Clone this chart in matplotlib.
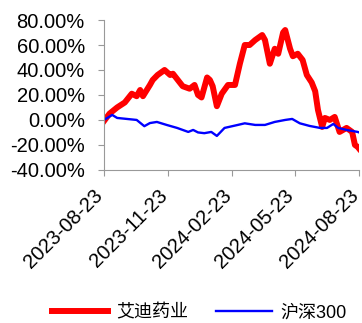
import numpy as np
import pandas as pd
import matplotlib
matplotlib.use("Agg")
from matplotlib import pyplot as plt
from matplotlib.ticker import FuncFormatter

plt.rcParams['font.family'] = ['Liberation Sans', 'Noto Sans CJK SC', 'DejaVu Sans']

# 艾迪药业 cumulative return (%)
red_dates = ["2023-08-23", "2023-08-31", "2023-09-11", "2023-09-22", "2023-10-02", "2023-10-09",
             "2023-10-14", "2023-10-18", "2023-10-28", "2023-11-01", "2023-11-08", "2023-11-18",
             "2023-11-26", "2023-11-30", "2023-12-07", "2023-12-14", "2023-12-24", "2023-12-31",
             "2024-01-05", "2024-01-10", "2024-01-18", "2024-01-22", "2024-01-26", "2024-02-01",
             "2024-02-08", "2024-02-17", "2024-02-27", "2024-03-05", "2024-03-12", "2024-03-19",
             "2024-03-27", "2024-04-06", "2024-04-10", "2024-04-17", "2024-04-24", "2024-04-29",
             "2024-05-06", "2024-05-09", "2024-05-16", "2024-05-20", "2024-05-27", "2024-06-03",
             "2024-06-09", "2024-06-16", "2024-06-21", "2024-06-25", "2024-07-01", "2024-07-05",
             "2024-07-12", "2024-07-19", "2024-07-26", "2024-08-05", "2024-08-13", "2024-08-17",
             "2024-08-21", "2024-08-23"]
red_vals = [-1, 5, 10, 14, 21, 19,
            24, 19, 28, 32, 36, 40,
            36, 37, 32, 27, 25, 28,
            20, 18, 34, 32, 27, 11,
            21, 28, 28, 45, 60, 60,
            64, 68, 64, 45, 57, 53,
            70, 72, 57, 51, 53, 48,
            36, 30, 23, 8, -5.6, 1.6,
            0, 2.4, -9.6, -6.4, -9.6, -20,
            -21.6, -23]

# 沪深300 cumulative return (%)
blue_dates = ["2023-08-23", "2023-09-04", "2023-09-11", "2023-10-09", "2023-10-20", "2023-10-28",
              "2023-11-07", "2023-11-21", "2023-12-06", "2023-12-22", "2023-12-29", "2024-01-05",
              "2024-01-14", "2024-01-24", "2024-02-01", "2024-02-12", "2024-03-02", "2024-03-12",
              "2024-03-27", "2024-04-10", "2024-04-24", "2024-05-09", "2024-05-19", "2024-05-30",
              "2024-06-13", "2024-06-28", "2024-07-08", "2024-07-17", "2024-07-24", "2024-08-05",
              "2024-08-21", "2024-08-23"]
blue_vals = [0, 4, 1.6, 0, -5, -2.5,
             -1.6, -4, -6.4, -9.6, -8, -10,
             -10.6, -9.6, -12.8, -6.4, -4, -2.7,
             -4, -4, -1.6, 0, 0.8, -2.7,
             -4.8, -6.4, -6.4, -3.2, -6.4, -8,
             -9.6, -10]

xticks = ["2023-08-23", "2023-11-23", "2024-02-23", "2024-05-23", "2024-08-23"]

fig = plt.figure(figsize=(3.62, 3.23), dpi=100)
ax = fig.add_axes([0.287, 0.474, 0.705, 0.464])

ax.plot(pd.to_datetime(red_dates), red_vals, color='#ff0000', lw=4.3, label='艾迪药业',
        solid_joinstyle='round')
ax.plot(pd.to_datetime(blue_dates), blue_vals, color='#0000ff', lw=1.7, label='沪深300')

ax.set_ylim(-40, 80)
ax.set_yticks(np.arange(-40, 81, 20))
ax.yaxis.set_major_formatter(FuncFormatter(lambda v, p: "%.2f%%" % v))
ax.set_xlim(pd.Timestamp(xticks[0]), pd.Timestamp(xticks[-1]))
ax.set_xticks(pd.to_datetime(xticks))
ax.set_xticklabels(xticks, rotation=45, ha='right', va='baseline', rotation_mode='anchor')

for s in ['top', 'right']:
    ax.spines[s].set_visible(False)
for s in ['left', 'bottom']:
    ax.spines[s].set_color('#999999')
ax.tick_params(axis='both', colors='#999999', labelcolor='black', labelsize=14.5, length=4.3)
ax.tick_params(axis='y', pad=9.4)
ax.tick_params(axis='x', pad=15)

fig.legend(loc='center', bbox_to_anchor=(0.55, 0.031), ncol=2, frameon=False,
           prop={'family': ['Liberation Sans', 'Noto Sans CJK SC'], 'size': 13},
           handlelength=3.1, columnspacing=1.55, handletextpad=0.45)

fig.savefig('out.png', dpi=100)
